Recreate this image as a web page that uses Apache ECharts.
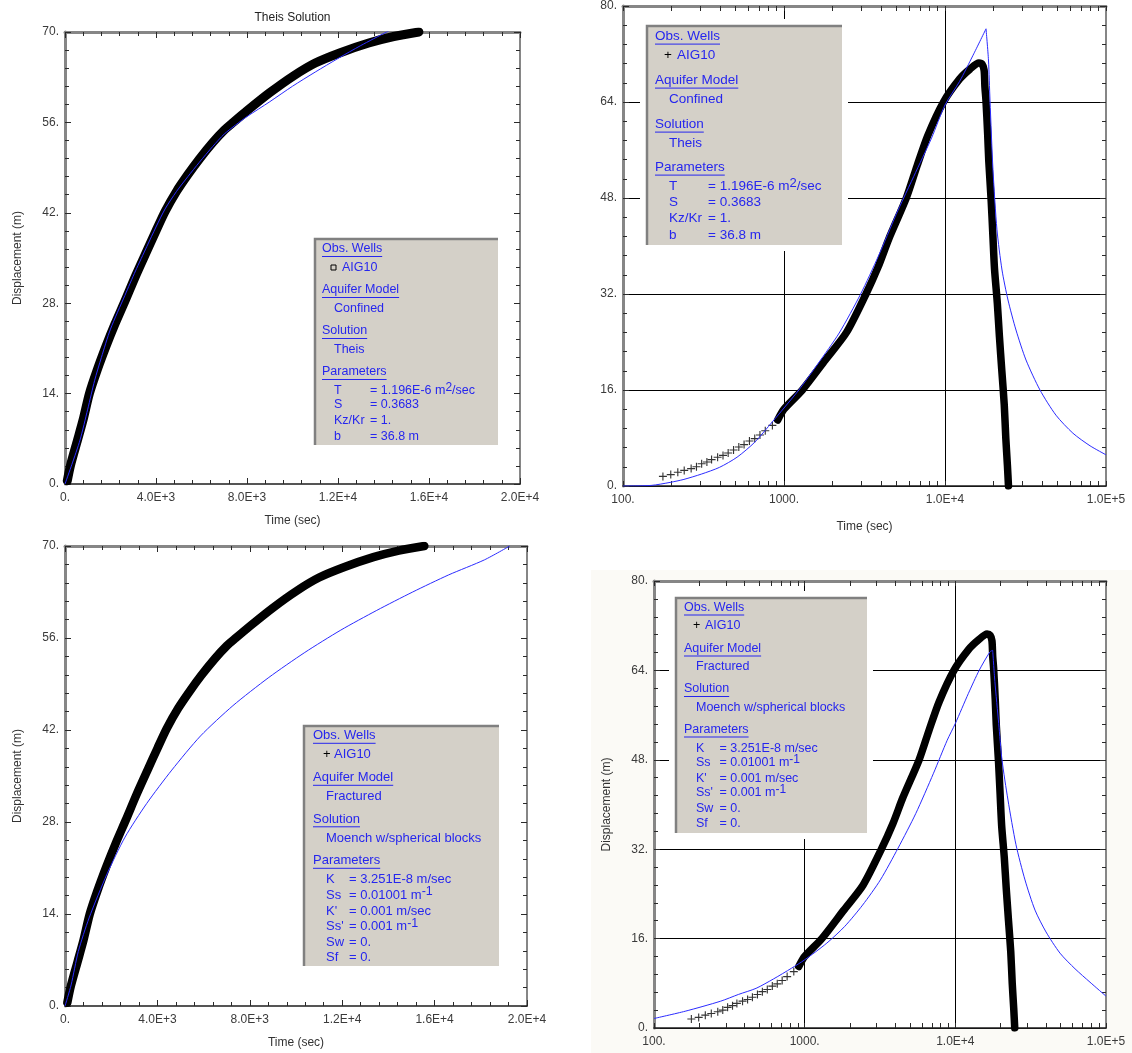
<!DOCTYPE html>
<html>
<head>
<meta charset="utf-8">
<title>AIG10 – Theis / Moench fits</title>
<script src="https://cdn.jsdelivr.net/npm/echarts@6.0.0/dist/echarts.min.js"></script>
<style>
html,body{margin:0;padding:0;background:#ffffff;}
#chart{width:1132px;height:1053px;}
</style>
</head>
<body>
<div id="chart"></div>
<script>
// ---------------- tick labels ----------------
const xLinTicks = [0, 4000, 8000, 12000, 16000, 20000];
const xLinLabels = ['0.', '4.0E+3', '8.0E+3', '1.2E+4', '1.6E+4', '2.0E+4'];
const yLinTicks = [0, 14, 28, 42, 56, 70];
const yLinLabels = ['0.', '14.', '28.', '42.', '56.', '70.'];
const xLogTicks = [100, 1000, 10000, 100000];
const xLogLabels = ['100.', '1000.', '1.0E+4', '1.0E+5'];
const xLogMinorTicks = [200, 300, 400, 500, 600, 700, 800, 900,
  2000, 3000, 4000, 5000, 6000, 7000, 8000, 9000,
  20000, 30000, 40000, 50000, 60000, 70000, 80000, 90000];
const yLogTicks = [0, 16, 32, 48, 64, 80];
const yLogLabels = ['0.', '16.', '32.', '48.', '64.', '80.'];

// ---------------- observed data (AIG10) ----------------
// linear-time plots (pumping period)
const obsLinT = [100, 250, 550, 800, 1072, 1400, 1800, 2200, 2632, 3100, 3600, 4000, 4400, 4900, 5400, 5900, 6500, 7000, 7392, 8000, 9000, 10040, 11000, 12100, 13350, 14450, 15556];
const obsLinY = [0.5, 3.0, 6.8, 10.0, 14.0, 17.5, 21.3, 24.8, 28.3, 32.2, 36.1, 39.2, 42.2, 45.3, 47.9, 50.3, 52.9, 54.8, 56.0, 57.8, 60.6, 63.2, 65.2, 66.8, 68.3, 69.3, 70.0];
// log-time plots: early sparse readings
const obsSparseT = [177, 198, 219, 240, 265, 286, 308, 332, 355, 387, 418, 450, 486, 524, 565, 610, 658, 709, 765, 847];
const obsSparseY = [1.6, 1.9, 2.3, 2.6, 2.9, 3.2, 3.7, 4.0, 4.4, 4.8, 5.1, 5.5, 6.0, 6.5, 6.9, 7.5, 7.9, 8.5, 9.2, 10.1];
// log-time plots: dense pumping readings
const obsDenseT = [914, 1000, 1300, 1807, 2445, 3230, 3855, 4479, 5750, 6714, 7813, 9790, 12300, 14310, 16240, 17000, 17500];
const obsDenseY = [11.0, 12.8, 16.0, 21.0, 25.6, 32.0, 36.6, 41.2, 48.0, 53.4, 58.4, 64.0, 67.8, 69.5, 70.5, 70.3, 69.3];
// log-time plots: recovery readings
const obsRecT = [17700, 17950, 18400, 18700, 19360, 19830, 20300, 21130, 21780, 22540, 23330, 23870, 24420, 24790];
const obsRecY = [66.5, 64.4, 58.8, 54.2, 47.5, 41.8, 36.2, 30.5, 24.9, 19.2, 13.6, 7.9, 3.4, 0];

// ---------------- model curves ----------------
const theisLinT = [0, 300, 660, 1000, 1300, 1600, 2000, 2632, 3100, 3600, 4000, 4400, 4900, 5400, 5900, 6500, 7000, 7500, 8000, 9000, 10000, 11000, 12000, 13000, 14137, 15000];
const theisLinY = [0, 3.0, 6.8, 11.6, 16.0, 19.6, 24.0, 29.2, 33.0, 36.8, 39.8, 42.6, 45.3, 47.6, 49.8, 52.3, 54.2, 55.6, 56.9, 59.2, 61.6, 63.8, 65.9, 67.9, 70.0, 71.5];
const theisLogT = [100, 150, 196, 239, 308, 397, 511, 658, 847, 1000, 1236, 1627, 2202, 2993, 3855, 4961, 5535, 6398, 8252, 10000, 12300, 14940, 17980];
const theisLogY = [0, 0.1, 0.6, 1.1, 2.0, 3.1, 4.8, 7.3, 10.7, 13.0, 16.0, 20.4, 25.5, 32.0, 38.3, 45.2, 48.0, 51.6, 58.0, 63.5, 67.4, 71.8, 76.2];
const theisRecT = [18620, 19030, 19860, 21030, 22600, 24620, 27600, 31850, 38900, 48900, 62300, 79600, 100000];
const theisRecY = [71.0, 64.3, 52.7, 42.7, 36.0, 31.0, 26.0, 21.0, 16.0, 11.8, 8.8, 6.7, 5.2];

const moenchLinT = [0, 265, 576, 1043, 1821, 2599, 3533, 4623, 5868, 7268, 8825, 10381, 11938, 13494, 15051, 16607, 18163, 19253];
const moenchLinY = [0, 3.2, 8.3, 13.4, 20.1, 25.7, 30.8, 35.9, 41.1, 45.7, 50.0, 53.8, 57.2, 60.2, 63.0, 65.6, 67.9, 70.0];
const moenchLogT = [100, 161, 277, 363, 476, 623, 818, 1000, 1404, 1847, 2424, 3180, 4168, 5466, 7165, 8830, 10000, 12220, 14390, 16960, 17700];
const moenchLogY = [1.7, 3.0, 4.8, 6.0, 7.1, 8.8, 10.7, 12.2, 15.2, 18.2, 22.0, 26.5, 32.2, 38.4, 45.6, 51.5, 54.5, 59.9, 64.0, 67.3, 67.6];
const moenchRecT = [18300, 19400, 20400, 22360, 25270, 29000, 33790, 39960, 49500, 62280, 78300, 100000];
const moenchRecY = [62.0, 54.5, 48.0, 40.8, 32.8, 26.5, 21.1, 17.2, 13.4, 10.6, 8.2, 5.7];

// ---------------- legend texts ----------------
const wellName = 'AIG10';
const headings = ['Obs. Wells', 'Aquifer Model', 'Solution', 'Parameters'];
const theisInfo = { model: 'Confined', solution: 'Theis',
  params: [['T', '= 1.196E-6 m', '2', '/sec'], ['S', '= 0.3683'], ['Kz/Kr', '= 1.'], ['b', '= 36.8 m']] };
const moenchInfo = { model: 'Fractured', solution: 'Moench w/spherical blocks',
  params: [['K', '= 3.251E-8 m/sec'], ['Ss', '= 0.01001 m', '-1', ''], ["K'", '= 0.001 m/sec'], ["Ss'", '= 0.001 m', '-1', ''], ['Sw', '= 0.'], ['Sf', '= 0.']] };

// ---------------- styling ----------------
const FONT = '"Liberation Sans", Arial, sans-serif';
const LBL = '#3a3a3a';
const NAMEC = '#333333';
const AX_DARK = '#1e1e1e';
const AX_GRAY = '#868686';
const TICK = '#2a2a2a';
const BLUE = '#2b2bff';
const TXT_BLUE = '#2626ee';
const plusPath = 'path://M4.3,0H5.7V4.3H10V5.7H5.7V10H4.3V5.7H0V4.3H4.3Z';

const grids = [
  { left: 65, top: 32, width: 455, height: 452 },
  { left: 623, top: 6, width: 483, height: 480 },
  { left: 65, top: 546, width: 462, height: 460 },
  { left: 654, top: 581, width: 452, height: 447 }
];

function pairs(xs, ys) { return xs.map((x, i) => [x, ys[i]]); }
function fmt(ticks, labels) {
  return function (v) {
    for (let i = 0; i < ticks.length; i++) {
      if (Math.abs(ticks[i] - v) <= 1e-6 * Math.max(1, Math.abs(ticks[i]))) return labels[i];
    }
    return '';
  };
}

const option = {
  animation: false,
  backgroundColor: 'rgba(0,0,0,0)',
  grid: grids.map(g => Object.assign({ show: true, backgroundColor: '#ffffff', borderWidth: 0 }, g)),
  xAxis: [], yAxis: [], series: [], graphic: []
};
const tickStyle = { color: TICK, width: 1 };
const labelStyle = { color: LBL, fontSize: 12, fontFamily: FONT };
const nameStyle = { color: NAMEC, fontSize: 12, fontFamily: FONT };

function addLinX(gi, name) {
  const base = { gridIndex: gi, type: 'value', min: xLinTicks[0], max: xLinTicks[xLinTicks.length - 1],
    interval: xLinTicks[1] - xLinTicks[0], splitLine: { show: false } };
  const idx = option.xAxis.push(Object.assign({}, base, {
    position: 'bottom',
    axisLine: { onZero: false, lineStyle: { color: AX_DARK, width: 1.5 } },
    axisTick: { inside: true, length: 6, lineStyle: tickStyle },
    minorTick: { show: true, splitNumber: 5, length: 4, lineStyle: tickStyle },
    axisLabel: Object.assign({ margin: 8, formatter: fmt(xLinTicks, xLinLabels) }, labelStyle),
    name: name, nameLocation: 'middle', nameGap: 31, nameTextStyle: nameStyle
  })) - 1;
  option.xAxis.push(Object.assign({}, base, {
    position: 'top',
    axisLine: { onZero: false, lineStyle: { color: AX_GRAY, width: 3 } },
    axisTick: { inside: true, length: 6, lineStyle: tickStyle },
    minorTick: { show: true, splitNumber: 5, length: 4, lineStyle: tickStyle },
    axisLabel: { show: false }
  }));
  return idx;
}

function addLogX(gi, name) {
  const lo = xLogTicks[0], hi = xLogTicks[xLogTicks.length - 1];
  const logLo = Math.log10(lo), logHi = Math.log10(hi);
  const bottom = { gridIndex: gi, type: 'log', logBase: 10, min: lo, max: hi,
    position: 'bottom',
    axisLine: { onZero: false, lineStyle: { color: AX_DARK, width: 1.5 } },
    axisTick: { inside: true, length: 5, lineStyle: tickStyle },
    axisLabel: Object.assign({ margin: 8, formatter: fmt(xLogTicks, xLogLabels) }, labelStyle),
    splitLine: { show: true, lineStyle: { color: '#000000', width: 1 } } };
  if (name) { bottom.name = name; bottom.nameLocation = 'middle'; bottom.nameGap = 35; bottom.nameTextStyle = nameStyle; }
  const idx = option.xAxis.push(bottom) - 1;
  // minor ticks along the bottom (log10 positions)
  option.xAxis.push({ gridIndex: gi, type: 'value', min: logLo, max: logHi, position: 'bottom',
    axisLine: { show: false }, axisLabel: { show: false }, splitLine: { show: false },
    axisTick: { show: true, inside: true, length: 5, lineStyle: tickStyle,
      customValues: xLogMinorTicks.map(v => Math.log10(v)) } });
  // top frame with all ticks
  option.xAxis.push({ gridIndex: gi, type: 'value', min: logLo, max: logHi, position: 'top',
    axisLine: { onZero: false, lineStyle: { color: AX_GRAY, width: 3 } },
    axisLabel: { show: false }, splitLine: { show: false },
    axisTick: { show: true, inside: true, length: 5, lineStyle: tickStyle,
      customValues: xLogTicks.concat(xLogMinorTicks).map(v => Math.log10(v)).sort((a, b) => a - b) } });
  return idx;
}

function addY(gi, ticks, labels, name, grid) {
  const base = { gridIndex: gi, type: 'value', min: ticks[0], max: ticks[ticks.length - 1],
    interval: ticks[1] - ticks[0] };
  const left = Object.assign({}, base, {
    position: 'left',
    axisLine: { onZero: false, lineStyle: { color: AX_GRAY, width: 3 } },
    axisTick: { inside: true, length: 6, lineStyle: tickStyle },
    minorTick: { show: true, splitNumber: 5, length: 4, lineStyle: tickStyle },
    axisLabel: Object.assign({ margin: 6, formatter: fmt(ticks, labels) }, labelStyle),
    splitLine: grid ? { show: true, lineStyle: { color: '#000000', width: 1 } } : { show: false }
  });
  if (name) { left.name = name; left.nameLocation = 'middle'; left.nameGap = 41; left.nameTextStyle = nameStyle; }
  const idx = option.yAxis.push(left) - 1;
  option.yAxis.push(Object.assign({}, base, {
    position: 'right',
    axisLine: { onZero: false, lineStyle: { color: AX_GRAY, width: 2 } },
    axisTick: { inside: true, length: 6, lineStyle: tickStyle },
    minorTick: { show: true, splitNumber: 5, length: 4, lineStyle: tickStyle },
    axisLabel: { show: false }, splitLine: { show: false }
  }));
  return idx;
}

function modelLine(xi, yi, data) {
  return { type: 'line', xAxisIndex: xi, yAxisIndex: yi, data: data, symbol: 'none', showSymbol: false,
    smooth: 0.25, lineStyle: { color: BLUE, width: 1 }, z: 4, silent: true };
}
function obsBand(xi, yi, data, width) {
  return { type: 'line', xAxisIndex: xi, yAxisIndex: yi, data: data, smooth: 0.25,
    symbol: 'none', showSymbol: false,
    lineStyle: { color: '#000000', width: width, cap: 'round', join: 'round' }, z: 3, silent: true };
}
function obsPlus(xi, yi, data) {
  return { type: 'scatter', xAxisIndex: xi, yAxisIndex: yi, data: data, symbol: plusPath,
    symbolSize: 8, itemStyle: { color: '#000000' }, z: 3, silent: true };
}

// ---------- panel 1: linear, Theis ----------
{
  const xi = addLinX(0, 'Time (sec)');
  const yi = addY(0, yLinTicks, yLinLabels, 'Displacement (m)', false);
  option.series.push(obsBand(xi, yi, pairs(obsLinT, obsLinY), 9));
  option.series.push(modelLine(xi, yi, pairs(theisLinT, theisLinY)));
}
// ---------- panel 2: log, Theis ----------
{
  const xi = addLogX(1, 'Time (sec)');
  const yi = addY(1, yLogTicks, yLogLabels, null, true);
  option.series.push(obsPlus(xi, yi, pairs(obsSparseT, obsSparseY)));
  option.series.push(obsBand(xi, yi, pairs(obsDenseT.concat(obsRecT), obsDenseY.concat(obsRecY)), 7.5));
  const pump = pairs(theisLogT, theisLogY);
  option.series.push(modelLine(xi, yi, pump));
  option.series.push(modelLine(xi, yi, [pump[pump.length - 1]].concat(pairs(theisRecT, theisRecY))));
}
// ---------- panel 3: linear, Moench ----------
{
  const xi = addLinX(2, 'Time (sec)');
  const yi = addY(2, yLinTicks, yLinLabels, 'Displacement (m)', false);
  option.series.push(obsBand(xi, yi, pairs(obsLinT, obsLinY), 8.5));
  option.series.push(modelLine(xi, yi, pairs(moenchLinT, moenchLinY)));
}
// ---------- panel 4: log, Moench ----------
{
  const xi = addLogX(3, null);
  const yi = addY(3, yLogTicks, yLogLabels, 'Displacement (m)', true);
  option.series.push(obsPlus(xi, yi, pairs(obsSparseT, obsSparseY)));
  option.series.push(obsBand(xi, yi, pairs(obsDenseT.concat(obsRecT), obsDenseY.concat(obsRecY)), 7.5));
  const pump = pairs(moenchLogT, moenchLogY);
  option.series.push(modelLine(xi, yi, pump));
  option.series.push(modelLine(xi, yi, [pump[pump.length - 1]].concat(pairs(moenchRecT, moenchRecY))));
}

// ---------------- graphics: title, background, legends ----------------
const G = option.graphic;
G.push({ type: 'rect', shape: { x: 591, y: 570, width: 541, height: 483 }, style: { fill: '#fbfaf6' }, z: -100, silent: true });
G.push({ type: 'text', x: 292.5, y: 17.5, style: { text: 'Theis Solution', fill: '#222222', fontSize: 12, fontFamily: FONT, align: 'center', verticalAlign: 'middle' }, z: 50, silent: true });

const measureCtx = document.createElement('canvas').getContext('2d');
function textWidth(t, fs) { measureCtx.font = fs + 'px "Liberation Sans", Arial, sans-serif'; return measureCtx.measureText(t).width; }

function addLegend(cfg, info, marker) {
  const b = cfg.box, fs = cfg.fs, Y = cfg.ys;
  G.push({ type: 'rect', shape: { x: b.x - 6, y: b.y - 6, width: b.w + 12, height: b.h + 12 }, style: { fill: '#ffffff' }, z: 90, silent: true });
  G.push({ type: 'rect', shape: { x: b.x, y: b.y, width: b.w, height: b.h }, style: { fill: '#d4d0c8' }, z: 91, silent: true });
  G.push({ type: 'polyline', shape: { points: [[b.x + 1, b.y + b.h], [b.x + 1, b.y + 1], [b.x + b.w, b.y + 1]] }, style: { stroke: '#808080', lineWidth: 2.5, fill: null }, z: 92, silent: true });
  const txt = (x, y, t, color) => G.push({ type: 'text', x: x, y: y, style: { text: t, fill: color || TXT_BLUE, fontSize: fs, fontFamily: FONT, verticalAlign: 'middle', align: 'left' }, z: 95, silent: true });
  const head = (x, y, t) => {
    txt(x, y, t);
    const w = textWidth(t, fs);
    G.push({ type: 'line', shape: { x1: x, y1: y + fs * 0.6, x2: x + w, y2: y + fs * 0.6 }, style: { stroke: TXT_BLUE, lineWidth: 1 }, z: 95, silent: true });
  };
  let k = 0;
  head(cfg.hx, Y[k++], headings[0]);
  const yw = Y[k++];
  if (marker === 'square') {
    G.push({ type: 'rect', shape: { x: cfg.mx, y: yw - 2.5, width: 5, height: 5 }, style: { stroke: '#000000', fill: null, lineWidth: 1 }, z: 95, silent: true });
  } else {
    txt(cfg.mx, yw, '+', '#000000');
  }
  txt(cfg.wx, yw, wellName);
  head(cfg.hx, Y[k++], headings[1]);
  txt(cfg.ix, Y[k++], info.model);
  head(cfg.hx, Y[k++], headings[2]);
  txt(cfg.ix, Y[k++], info.solution);
  head(cfg.hx, Y[k++], headings[3]);
  info.params.forEach(p => {
    const y = Y[k++];
    txt(cfg.ix, y, p[0]);
    if (p.length > 2) {
      G.push({ type: 'text', x: cfg.vx, y: y, style: {
        text: '{a|' + p[1] + '}{s|' + p[2] + '}' + (p[3] ? '{a|' + p[3] + '}' : ''),
        verticalAlign: 'middle', align: 'left',
        rich: {
          a: { fill: TXT_BLUE, fontSize: fs, fontFamily: FONT, lineHeight: fs + 6 },
          s: { fill: TXT_BLUE, fontSize: fs - 0.5, fontFamily: FONT, lineHeight: fs, verticalAlign: 'top' }
        } }, z: 95, silent: true });
    } else {
      txt(cfg.vx, y, p[1]);
    }
  });
}

addLegend({ box: { x: 314, y: 238, w: 184, h: 207 }, fs: 12.5, hx: 322, ix: 334, vx: 370, mx: 331, wx: 342,
  ys: [249, 267.5, 290, 308.5, 331, 349.5, 372, 390.5, 405, 420.5, 436.5] }, theisInfo, 'square');
addLegend({ box: { x: 646, y: 25, w: 196, h: 220 }, fs: 13.5, hx: 655, ix: 669, vx: 708, mx: 664, wx: 677,
  ys: [36, 55.5, 80, 99.5, 124, 143.5, 167, 186.5, 202.5, 218.5, 235] }, theisInfo, 'plus');
addLegend({ box: { x: 303, y: 725, w: 196, h: 241 }, fs: 13, hx: 313, ix: 326, vx: 349, mx: 323, wx: 334,
  ys: [735.5, 754.5, 777.5, 796, 819, 838, 860.5, 879.5, 895, 911, 926.5, 942, 957] }, moenchInfo, 'plus');
addLegend({ box: { x: 675, y: 597, w: 192, h: 236 }, fs: 12.5, hx: 684, ix: 696, vx: 719.5, mx: 693, wx: 705,
  ys: [607.5, 626, 648.5, 667, 689, 707.5, 729.5, 748.5, 762.5, 778.5, 793, 808.5, 823.5] }, moenchInfo, 'plus');

const chart = echarts.init(document.getElementById('chart'), null, { renderer: 'canvas', width: 1132, height: 1053 });
chart.setOption(option);
</script>
</body>
</html>
